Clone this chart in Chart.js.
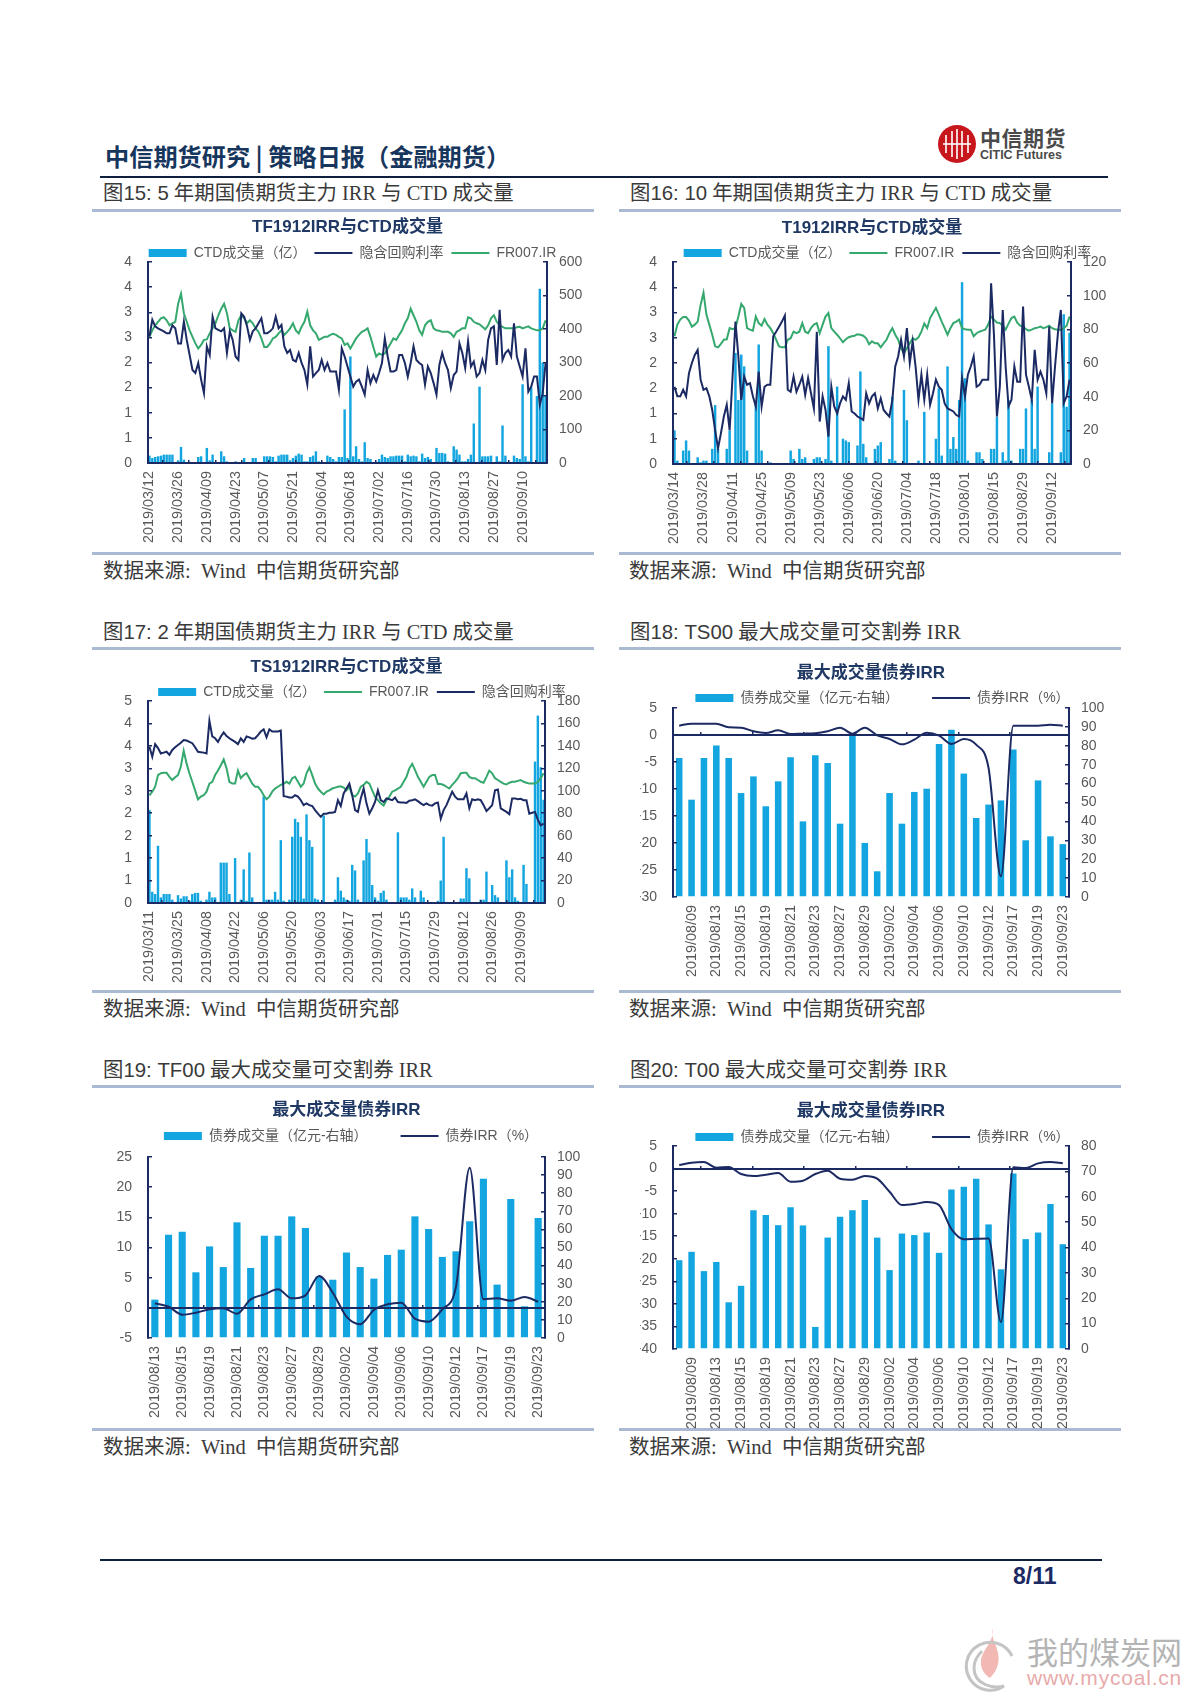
<!DOCTYPE html>
<html lang="zh-CN">
<head>
<meta charset="utf-8">
<title>中信期货研究 | 策略日报（金融期货）</title>
<script src="https://cdn.jsdelivr.net/npm/chart.js@4"></script>
<style>
  html, body { margin: 0; padding: 0; background: #fff; }
  #page { position: relative; width: 1200px; height: 1697px; overflow: hidden; background: #fff; }
  #page > * { position: absolute; }
  canvas { display: block; }
  .band { height: 3px; background: #a9bad2; width: 502px; }
  .cap, .src { white-space: nowrap; font-family: "Liberation Serif", "Noto Sans CJK SC", serif; color: #3a3a3a; line-height: 24px; }
  .cap { font-size: 20.4px; }
  .cap b { font-family: "Liberation Sans", "Noto Sans CJK SC", sans-serif; font-weight: 400; }
  .src { font-size: 20.5px; }
  #head { left: 105px; top: 140px; font: 600 24.2px/32px "Noto Sans CJK SC", sans-serif; color: #17365d; white-space: nowrap; }
  #logoCn { left: 980px; top: 124px; font: 700 21px/26px "Noto Sans CJK SC", sans-serif; color: #4a4a4a; letter-spacing: 0.5px; white-space: nowrap; }
  #logoEn { left: 980px; top: 148px; font: 700 12.5px/15px "Liberation Sans", sans-serif; color: #4a4a4a; white-space: nowrap; }
  #pageNo { left: 1013px; top: 1562px; font: 700 23px/28px "Liberation Sans", sans-serif; color: #1b2a63; white-space: nowrap; }
  #wmCn { left: 1027px; top: 1632px; font: 400 31px/38px "Noto Sans CJK SC", sans-serif; color: #b4b4b4; white-space: nowrap; }
  #wmEn { left: 1027px; top: 1666px; font: 400 21px/24px "Liberation Sans", sans-serif; color: #e8aaaa; letter-spacing: 0.8px; white-space: nowrap; }
</style>
</head>
<body>
<div id="page">
  <div id="head">中信期货研究 | 策略日报（金融期货）</div>
  <svg style="left:938px;top:125px" width="38" height="38" viewBox="0 0 38 38">
    <circle cx="19" cy="19" r="19" fill="#c8161d"/>
    <path d="M8 10v18M14 6v26M19 4v30M24 6v26M30 10v18" stroke="#fff" stroke-width="1.6" fill="none"/>
    <path d="M5 19h28" stroke="#fff" stroke-width="1.6"/>
  </svg>
  <div id="logoCn">中信期货</div>
  <div id="logoEn">CITIC Futures</div>
  <div style="left:100px;top:176px;width:1008px;height:2px;background:#0d1f3c"></div>

  <div class="cap" style="left:103px;top:181px"><b>图15: 5</b> 年期国债期货主力 IRR 与 CTD 成交量</div>
  <div class="cap" style="left:630px;top:181px"><b>图16: 10</b> 年期国债期货主力 IRR 与 CTD 成交量</div>
  <div class="band" style="left:92px;top:209px"></div>
  <div class="band" style="left:619px;top:209px"></div>
  <div class="band" style="left:92px;top:552px"></div>
  <div class="band" style="left:619px;top:552px"></div>
  <div class="src" style="left:103px;top:559px">数据来源: &nbsp;Wind &nbsp;中信期货研究部</div>
  <div class="src" style="left:629px;top:559px">数据来源: &nbsp;Wind &nbsp;中信期货研究部</div>

  <div class="cap" style="left:103px;top:620px"><b>图17: 2</b> 年期国债期货主力 IRR 与 CTD 成交量</div>
  <div class="cap" style="left:630px;top:620px"><b>图18: TS00</b> 最大成交量可交割券 IRR</div>
  <div class="band" style="left:92px;top:647px"></div>
  <div class="band" style="left:619px;top:647px"></div>
  <div class="band" style="left:92px;top:990px"></div>
  <div class="band" style="left:619px;top:990px"></div>
  <div class="src" style="left:103px;top:997px">数据来源: &nbsp;Wind &nbsp;中信期货研究部</div>
  <div class="src" style="left:629px;top:997px">数据来源: &nbsp;Wind &nbsp;中信期货研究部</div>

  <div class="cap" style="left:103px;top:1058px"><b>图19: TF00</b> 最大成交量可交割券 IRR</div>
  <div class="cap" style="left:630px;top:1058px"><b>图20: T00</b> 最大成交量可交割券 IRR</div>
  <div class="band" style="left:92px;top:1085px"></div>
  <div class="band" style="left:619px;top:1085px"></div>
  <div class="band" style="left:92px;top:1428px"></div>
  <div class="band" style="left:619px;top:1428px"></div>
  <div class="src" style="left:103px;top:1435px">数据来源: &nbsp;Wind &nbsp;中信期货研究部</div>
  <div class="src" style="left:629px;top:1435px">数据来源: &nbsp;Wind &nbsp;中信期货研究部</div>

  <canvas id="c15"></canvas>
  <canvas id="c16"></canvas>
  <canvas id="c17"></canvas>
  <canvas id="c18"></canvas>
  <canvas id="c19"></canvas>
  <canvas id="c20"></canvas>

  <div style="left:100px;top:1559px;width:1002px;height:2px;background:#0d1f3c"></div>
  <div id="pageNo">8/11</div>
  <svg style="left:962px;top:1626px" width="60" height="66" viewBox="0 0 60 66">
    <path d="M30 2c3 14-9 20-11 32-1 8 3 14 9 18 7-7 10-16 8-25-2-10-7-15-6-25z" fill="#f2b8b4"/>
    <path d="M50 30a24 24 0 1 0-8 30c-10 3-30-1-30-18 0-8 4-13 8-17" fill="none" stroke="#c4c4c4" stroke-width="3"/>
  </svg>
  <div id="wmCn">我的煤炭网</div>
  <div id="wmEn">www.mycoal.cn</div>
</div>

<script>
// 图15 TF1912
const ticks15 = ["2019/03/12","2019/03/26","2019/04/09","2019/04/23","2019/05/07","2019/05/21","2019/06/04","2019/06/18","2019/07/02","2019/07/16","2019/07/30","2019/08/13","2019/08/27","2019/09/10"];
const vol15 = [22,15,18,20,22,25,25,25,25,2,8,48,10,3,0,0,0,18,20,0,45,8,25,0,3,35,20,5,0,0,5,3,3,15,0,2,15,15,0,0,20,20,20,18,5,22,25,25,25,8,15,22,28,25,5,5,18,22,35,5,3,3,22,18,12,5,18,18,160,15,318,20,50,12,5,62,15,12,3,3,12,25,18,15,20,20,22,22,22,5,25,20,22,20,5,28,15,18,12,2,45,30,30,28,5,0,50,40,25,5,5,12,25,118,0,228,20,20,20,22,3,20,5,112,22,3,3,22,15,12,235,20,5,225,3,200,520,300,200];
const irr15 = [2.52,2.85,2.72,2.68,2.65,2.62,2.58,2.58,2.74,2.68,2.38,2.38,2.81,2.45,2.15,1.85,1.79,1.99,1.66,1.39,2.32,2.15,2.91,2.68,2.65,2.62,2.68,2.19,2.62,2.45,2.12,2.05,2.98,2.91,2.72,2.45,2.62,2.68,2.78,2.88,2.58,2.58,2.62,2.68,2.91,2.68,2.75,2.32,2.19,2.25,2.05,2.02,2.19,1.99,1.85,1.56,2.32,1.72,1.79,1.85,2.05,1.85,1.99,1.82,1.82,1.82,1.46,2.28,2.12,1.92,1.72,1.52,1.62,1.66,1.52,1.36,1.85,1.59,1.75,1.62,1.79,1.99,2.48,2.12,1.82,1.82,1.85,2.15,2.15,1.99,1.72,1.99,2.32,2.05,1.99,1.95,1.56,1.92,1.79,1.59,1.36,1.95,2.19,1.99,1.85,1.49,1.75,1.82,2.38,2.19,1.89,2.42,1.92,2.02,1.72,1.79,2.05,1.85,2.45,2.68,2.72,1.95,3.05,2.05,2.19,2.25,2.12,2.78,2.12,1.92,1.72,2.28,1.42,1.52,1.72,1.72,1.16,1.39,1.99];
const fr15 = [2.51,2.64,2.74,2.81,2.88,2.90,2.84,2.74,2.78,2.81,3.17,3.37,2.98,2.81,2.64,2.51,2.38,2.28,2.35,2.45,2.46,2.58,2.68,2.78,2.94,3.07,3.17,2.98,2.68,2.64,2.61,2.84,2.94,2.88,2.78,2.84,2.78,2.68,2.61,2.48,2.31,2.31,2.38,2.48,2.51,2.58,2.64,2.55,2.61,2.68,2.78,2.64,2.58,2.71,2.81,3.01,2.74,2.64,2.58,2.45,2.48,2.51,2.51,2.55,2.57,2.55,2.51,2.48,2.35,2.38,2.28,2.38,2.48,2.55,2.61,2.64,2.68,2.51,2.31,2.12,2.18,2.15,2.18,2.28,2.38,2.48,2.45,2.55,2.64,2.78,2.88,3.07,2.94,2.81,2.64,2.55,2.74,2.81,2.84,2.68,2.64,2.63,2.61,2.61,2.61,2.58,2.51,2.61,2.64,2.68,2.68,2.90,2.88,2.81,2.78,2.76,2.71,2.66,2.74,2.88,2.94,2.81,2.74,2.71,2.68,2.68,2.68,2.68,2.70,2.71,2.68,2.70,2.72,2.68,2.66,2.64,2.64,2.68,2.84];

// 图16 T1912
const ticks16 = ["2019/03/14","2019/03/28","2019/04/11","2019/04/25","2019/05/09","2019/05/23","2019/06/06","2019/06/20","2019/07/04","2019/07/18","2019/08/01","2019/08/15","2019/08/29","2019/09/12"];
const vol16 = [20,2,0,8,14,8,0,0,4,1,2,2,0,9,35,9,0,0,9,20,0,66,38,65,58,8,0,0,35,71,8,0,0,1,0,0,0,0,0,0,8,3,0,9,3,4,0,0,3,4,4,0,3,70,2,0,46,0,15,14,13,0,0,11,55,12,4,0,0,9,11,13,0,0,3,40,2,0,0,44,26,0,0,0,2,0,31,0,0,0,15,45,5,0,58,9,16,9,38,108,51,2,0,0,7,7,3,0,0,9,9,28,0,7,2,38,2,0,0,9,9,33,0,38,9,46,0,0,0,7,36,0,0,7,89,34,78];
const irr16 = [1.53,1.34,1.34,1.47,1.34,1.8,2.0,2.16,2.26,1.67,1.47,1.5,1.34,1.07,0.67,0.31,0.61,0.94,1.17,0.67,1.73,2.82,2.13,1.27,1.73,1.57,1.6,1.34,1.14,1.83,1.14,1.53,1.57,1.57,2.53,2.62,2.72,2.82,2.94,1.47,1.43,1.73,1.43,1.57,1.73,1.37,1.7,1.4,1.1,2.62,0.84,1.34,1.07,0.54,1.53,1.14,1.0,1.2,1.34,1.27,1.6,1.04,1.0,0.94,0.91,0.87,1.4,1.2,1.34,1.4,1.1,1.3,1.07,1.0,0.94,1.27,1.93,2.13,2.46,2.13,2.69,2.0,2.43,1.93,1.27,1.77,1.27,1.77,1.17,1.4,1.67,1.53,1.47,1.2,1.1,1.07,1.04,0.97,0.94,1.7,1.34,1.77,1.93,2.13,1.53,1.57,1.67,1.67,1.67,3.58,2.53,0.94,1.53,3.05,1.93,1.14,1.27,1.93,1.63,1.63,3.12,1.77,1.53,1.27,2.26,1.67,1.83,1.67,1.4,2.72,1.2,1.93,2.59,3.05,1.2,1.34,1.67];
const fr16 = [2.53,2.76,2.86,2.91,2.91,2.84,2.72,2.76,2.82,3.15,3.39,2.96,2.76,2.56,2.33,2.31,2.38,2.46,2.47,2.69,2.67,2.69,2.92,3.17,3.09,2.69,2.66,2.64,2.92,2.79,2.74,2.87,2.76,2.69,2.59,2.46,2.33,2.31,2.31,2.46,2.49,2.62,2.59,2.62,2.79,2.62,2.59,2.69,2.76,2.79,2.59,2.76,2.92,2.99,2.69,2.62,2.56,2.49,2.41,2.47,2.51,2.53,2.54,2.57,2.56,2.54,2.49,2.37,2.43,2.39,2.39,2.31,2.39,2.46,2.59,2.69,2.56,2.46,2.29,2.19,2.29,2.39,2.49,2.46,2.51,2.62,2.78,2.69,2.89,2.99,3.09,2.96,2.82,2.69,2.56,2.69,2.79,2.82,2.86,2.69,2.67,2.66,2.66,2.53,2.59,2.62,2.64,2.66,2.76,2.92,2.86,2.8,2.79,2.74,2.66,2.78,2.89,2.92,2.8,2.74,2.72,2.67,2.64,2.66,2.69,2.7,2.72,2.69,2.71,2.74,2.69,2.67,2.66,2.66,2.69,2.74,2.92];

// 图17 TS1912
const ticks17 = ["2019/03/11","2019/03/25","2019/04/08","2019/04/22","2019/05/06","2019/05/20","2019/06/03","2019/06/17","2019/07/01","2019/07/15","2019/07/29","2019/08/12","2019/08/26","2019/09/09"];
const vol17 = [83,10,8,51,5,8,8,8,3,0,7,4,6,6,2,8,9,9,2,0,3,10,5,5,0,36,36,36,8,0,40,0,3,30,2,45,5,0,0,0,95,3,3,3,10,3,56,2,0,3,59,75,72,59,4,79,56,50,4,3,0,78,0,0,0,3,23,11,5,3,2,34,29,3,0,38,57,45,16,5,2,9,11,3,0,0,0,63,5,5,5,3,13,5,0,11,5,0,0,0,0,2,20,59,1,0,0,0,1,4,4,31,22,0,0,0,3,3,28,0,16,7,5,0,0,38,23,30,5,2,0,34,17,0,0,126,167,121,92];
const irr17 = [3.48,3.26,3.54,3.45,3.33,3.35,3.37,3.30,3.41,3.47,3.52,3.57,3.63,3.62,3.59,3.56,3.47,3.37,3.36,3.35,3.33,4.06,3.71,3.67,3.59,3.71,3.80,3.72,3.67,3.63,3.59,3.54,3.67,3.59,3.71,3.69,3.66,3.67,3.74,3.82,3.87,3.69,3.87,3.82,3.82,3.82,3.84,2.38,2.37,2.35,2.35,2.40,2.37,2.29,2.18,2.22,2.18,2.16,2.07,1.99,1.92,1.99,1.99,2.01,2.01,2.03,2.29,2.16,2.44,2.55,2.66,2.40,2.07,2.03,2.33,2.55,2.22,1.99,2.11,2.25,2.51,2.29,2.25,2.33,2.31,2.29,2.35,2.25,2.24,2.24,2.23,2.28,2.29,2.31,2.27,2.22,2.18,2.22,2.18,2.17,2.22,2.24,1.88,2.07,2.18,2.33,2.48,2.37,2.31,2.31,2.31,2.44,2.11,2.31,2.29,2.31,2.29,2.18,2.05,2.11,2.18,2.51,2.53,2.11,2.07,2.03,1.98,2.33,2.33,2.31,2.32,2.29,2.29,1.99,2.01,2.03,1.85,1.73,1.77];
const fr17 = [2.40,2.48,2.59,2.85,2.89,2.90,2.90,2.81,2.74,2.80,2.85,3.04,3.39,3.11,2.89,2.70,2.51,2.31,2.37,2.40,2.48,2.66,2.70,2.85,2.95,3.07,3.20,3.0,2.70,2.66,2.66,2.95,2.78,2.85,2.89,2.78,2.66,2.59,2.59,2.51,2.40,2.31,2.37,2.48,2.55,2.59,2.63,2.66,2.70,2.66,2.78,2.81,2.70,2.59,2.66,2.89,3.02,2.85,2.66,2.55,2.48,2.42,2.48,2.51,2.55,2.57,2.59,2.60,2.57,2.51,2.59,2.40,2.37,2.44,2.59,2.63,2.70,2.66,2.51,2.37,2.29,2.22,2.17,2.29,2.37,2.48,2.51,2.55,2.59,2.70,2.81,3.0,3.10,2.96,2.81,2.70,2.59,2.70,2.81,2.85,2.85,2.65,2.65,2.63,2.59,2.55,2.63,2.70,2.78,2.89,2.90,2.90,2.81,2.78,2.78,2.74,2.70,2.68,2.81,2.95,2.89,2.78,2.74,2.70,2.66,2.64,2.68,2.70,2.70,2.72,2.74,2.70,2.68,2.66,2.66,2.66,2.70,2.78,2.89];

// 图18 / 图20 共用日期，图19 少前三天
const dates18 = ["2019/08/08","2019/08/09","2019/08/12","2019/08/13","2019/08/14","2019/08/15","2019/08/16","2019/08/19","2019/08/20","2019/08/21","2019/08/22","2019/08/23","2019/08/26","2019/08/27","2019/08/28","2019/08/29","2019/08/30","2019/09/02","2019/09/03","2019/09/04","2019/09/05","2019/09/06","2019/09/09","2019/09/10","2019/09/11","2019/09/12","2019/09/16","2019/09/17","2019/09/18","2019/09/19","2019/09/20","2019/09/23"];
const dates19 = ["2019/08/13","2019/08/14","2019/08/15","2019/08/16","2019/08/19","2019/08/20","2019/08/21","2019/08/22","2019/08/23","2019/08/26","2019/08/27","2019/08/28","2019/08/29","2019/08/30","2019/09/02","2019/09/03","2019/09/04","2019/09/05","2019/09/06","2019/09/09","2019/09/10","2019/09/11","2019/09/12","2019/09/16","2019/09/17","2019/09/18","2019/09/19","2019/09/20","2019/09/23"];

const vol18 = [73.5,51.5,73.5,80.2,73.5,55,63.8,48,61.2,74,40,75,70.9,38.8,85.9,28.6,13.6,55,38.8,55.6,57.3,81,88.5,65.3,41.8,48.9,51.1,78,30,61.7,32.1,28];
const irr18 = [1.73,2.1,2.1,2.1,1.42,1.36,0.68,0.37,0.86,0.19,0.25,0.31,0.68,1.36,0.25,1.36,-0.06,-0.74,-1.73,-0.86,0.43,-0.12,-1.67,-0.74,-1.79,-6.11,-26.17,1.73,1.73,1.73,1.91,1.73];

const vol19 = [21.2,57.1,58.7,36.3,50.6,39.2,63.9,38.7,56.5,56.5,67.2,60.8,34,32.2,47.3,39.2,32.8,45.9,48.8,67.2,60.2,44.8,47.9,64.5,88,29.5,76.8,17.5,66.3];
const irr19 = [0.75,0.19,-1.13,-0.8,-0.25,-0.08,-0.97,1.41,2.24,3.07,1.57,2.07,5.28,2.51,-1.46,-2.73,-0.36,0.58,0.86,-1.8,-2.29,-0.25,3.51,23.23,1.41,1.57,1.19,1.8,1.02];

const vol20 = [35,38.3,30.7,34.3,18.4,24.9,54.7,52.8,48.8,55.9,48.7,8.7,43.9,52.1,54.7,58.7,43.9,31.1,45.5,44.9,45.9,37.9,62.9,63.9,67.1,49.1,31.4,69.2,43.3,45.9,57.1,41.3];
const irr20 = [0.78,1.3,1.45,0.19,0.34,-1.21,-1.66,-1.36,-0.99,-2.92,-2.69,-1.21,-0.47,-2.25,-2.47,-1.66,-2.25,-5.14,-8.1,-7.87,-7.42,-8.1,-13.43,-15.66,-15.57,-15.5,-34.01,0.27,0.12,1.15,1.45,1.15];

const NAVY = "#1b2a63";
const GREEN = "#35a86e";
const BLUE = "#12a5df";
const GREY = "#595959";
const FONT = '"Liberation Sans", "Noto Sans CJK SC", sans-serif';
const X_HEIGHT = 85;

// 把标题和图例放到相对绘图区的固定高度
const pinHeader = {
    id: "pinHeader",
    afterLayout(chart, args, opts) {
        const top = chart.chartArea.top;
        chart.titleBlock.top = top - opts.titleUp - 8.5;
        chart.legend.top = top - opts.legendUp - opts.gap - 7;
    },
};

// 标注日期每隔 10 个交易日，中间留空
function sparseLabels(ticks, n) {
    const out = new Array(n).fill("");
    ticks.forEach((d, i) => { out[i * 10] = d; });
    return out;
}

function legendItems(chart) {
    return chart.data.datasets.map((ds, i) => ({
        text: ds.label,
        fillStyle: ds.backgroundColor,
        strokeStyle: ds.borderColor,
        lineWidth: ds.type === "bar" ? 0 : 2,
        pointStyle: ds.type === "bar" ? "rect" : "line",
        fontColor: GREY,
        datasetIndex: i,
    }));
}

function makeChart(id, box, cfg) {
    const canvas = document.getElementById(id);
    const plotH = box.bottom - box.top;
    const head = 17 + 24 + cfg.gap;
    canvas.width = box.leftW + (box.right - box.left) + box.rightW;
    canvas.height = head + plotH + X_HEIGHT;
    canvas.style.left = (box.left - box.leftW) + "px";
    canvas.style.top = (box.top - head) + "px";

    const tickFont = { family: FONT, size: 14 };
    const n = cfg.datasets[0].data.length;
    const yAxis = (pos, y, pad) => ({
        axis: "y",
        position: pos,
        min: y.min,
        max: y.max,
        afterFit(s) { s.width = pos === "left" ? box.leftW : box.rightW; },
        border: { color: NAVY, width: 2, z: 1 },
        grid: { drawOnChartArea: false, tickLength: -4, color: NAVY, lineWidth: 1.5, z: 1 },
        ticks: {
            stepSize: y.step,
            padding: pad,
            color: GREY,
            font: tickFont,
            autoSkip: false,
            callback: (v) => Math.round(v),
        },
    });

    new Chart(canvas, {
        type: "bar",
        data: { labels: cfg.labels, datasets: cfg.datasets },
        plugins: [pinHeader],
        options: {
            responsive: false,
            animation: false,
            layout: { padding: 0 },
            plugins: {
                pinHeader: { titleUp: cfg.titleUp, legendUp: cfg.legendUp, gap: cfg.gap },
                tooltip: { enabled: false },
                title: {
                    display: true,
                    text: cfg.title,
                    fullSize: false,
                    color: "#1f3864",
                    padding: 0,
                    font: { family: FONT, size: 17, weight: "bold", lineHeight: 1 },
                },
                legend: {
                    display: true,
                    labels: {
                        usePointStyle: true,
                        pointStyleWidth: 38,
                        boxHeight: 8,
                        padding: cfg.gap,
                        font: { family: FONT, size: 14 },
                        generateLabels: legendItems,
                    },
                },
            },
            scales: {
                x: {
                    axis: "x",
                    type: "category",
                    offset: true,
                    afterFit(s) { s.height = X_HEIGHT; },
                    afterBuildTicks(s) {
                        s.ticks = s.ticks.filter((t) => t.value >= cfg.first && (t.value - cfg.first) % cfg.step === 0);
                    },
                    border: { display: false },
                    grid: { display: false, drawTicks: false },
                    ticks: { autoSkip: false, minRotation: 90, maxRotation: 90, padding: 8, color: GREY, font: { family: FONT, size: 14.4 } },
                },
                // 穿过左轴 0 的横轴线
                xLine: {
                    axis: "x",
                    type: "linear",
                    min: 0,
                    max: n,
                    position: { yL: 0 },
                    afterBuildTicks(s) { s.ticks = cfg.marks.map((value) => ({ value })); },
                    border: { color: NAVY, width: 2, z: 1 },
                    grid: { drawOnChartArea: false, tickLength: -4, color: NAVY, lineWidth: 1.5, z: 1 },
                    ticks: { display: false },
                },
                yL: yAxis("left", cfg.left, 20),
                yR: yAxis("right", cfg.right, 16),
            },
        },
    });
}

function volBar(label, data, barPct) {
    return { type: "bar", label, data, xAxisID: "x", yAxisID: "yR", backgroundColor: BLUE, borderWidth: 0, barPercentage: barPct, categoryPercentage: 1, order: 3 };
}

function rateLine(label, data, color, smooth, order) {
    return { type: "line", label, data, xAxisID: "x", yAxisID: "yL", borderColor: color, backgroundColor: color, borderWidth: 2, pointRadius: 0, cubicInterpolationMode: smooth ? "monotone" : "default", order };
}

const every = (start, step, n) => { const a = []; for (let v = start; v < n; v += step) a.push(v); return a; };

makeChart("c15", { left: 148, right: 547, top: 262, bottom: 463, leftW: 48, rightW: 58 }, {
    title: "TF1912IRR与CTD成交量", titleUp: 35, legendUp: 9, gap: 8,
    labels: sparseLabels(ticks15, vol15.length), first: 0, step: 10, marks: every(5, 10, vol15.length),
    left: { min: 0, max: 4, step: 0.5 }, right: { min: 0, max: 600, step: 100 },
    datasets: [volBar("CTD成交量（亿）", vol15, 0.85), rateLine("隐含回购利率", irr15, NAVY, false, 1), rateLine("FR007.IR", fr15, GREEN, false, 2)],
});

makeChart("c16", { left: 673, right: 1071, top: 262, bottom: 464, leftW: 33, rightW: 64 }, {
    title: "T1912IRR与CTD成交量", titleUp: 34, legendUp: 9, gap: 8,
    labels: sparseLabels(ticks16, vol16.length), first: 0, step: 10, marks: every(5, 10, vol16.length),
    left: { min: 0, max: 4, step: 0.5 }, right: { min: 0, max: 120, step: 20 },
    datasets: [volBar("CTD成交量（亿）", vol16, 0.85), rateLine("FR007.IR", fr16, GREEN, false, 2), rateLine("隐含回购利率", irr16, NAVY, false, 1)],
});

makeChart("c17", { left: 148, right: 545, top: 701, bottom: 903, leftW: 30, rightW: 61 }, {
    title: "TS1912IRR与CTD成交量", titleUp: 34, legendUp: 9, gap: 8,
    labels: sparseLabels(ticks17, vol17.length), first: 0, step: 10, marks: every(5, 10, vol17.length),
    left: { min: 0, max: 4.5, step: 0.5 }, right: { min: 0, max: 180, step: 20 },
    datasets: [volBar("CTD成交量（亿）", vol17, 0.85), rateLine("FR007.IR", fr17, GREEN, false, 2), rateLine("隐含回购利率", irr17, NAVY, false, 1)],
});

makeChart("c18", { left: 673, right: 1069, top: 708, bottom: 897, leftW: 33, rightW: 56 }, {
    title: "最大成交量债券IRR", titleUp: 35, legendUp: 10, gap: 33,
    labels: dates18, first: 1, step: 2, marks: every(2, 5, dates18.length),
    left: { min: -30, max: 5, step: 5 }, right: { min: 0, max: 100, step: 10 },
    datasets: [volBar("债券成交量（亿元-右轴）", vol18, 0.53), rateLine("债券IRR（%）", irr18, NAVY, true, 1)],
});

makeChart("c19", { left: 148, right: 545, top: 1157, bottom: 1338, leftW: 48, rightW: 57 }, {
    title: "最大成交量债券IRR", titleUp: 47, legendUp: 21, gap: 33,
    labels: dates19, first: 0, step: 2, marks: every(4, 5, dates19.length),
    left: { min: -5, max: 25, step: 5 }, right: { min: 0, max: 100, step: 10 },
    datasets: [volBar("债券成交量（亿元-右轴）", vol19, 0.52), rateLine("债券IRR（%）", irr19, NAVY, true, 1)],
});

makeChart("c20", { left: 673, right: 1069, top: 1146, bottom: 1349, leftW: 33, rightW: 56 }, {
    title: "最大成交量债券IRR", titleUp: 35, legendUp: 9, gap: 33,
    labels: dates18, first: 1, step: 2, marks: every(2, 5, dates18.length),
    left: { min: -40, max: 5, step: 5 }, right: { min: 0, max: 80, step: 10 },
    datasets: [volBar("债券成交量（亿元-右轴）", vol20, 0.52), rateLine("债券IRR（%）", irr20, NAVY, true, 1)],
});
</script>
</body>
</html>
